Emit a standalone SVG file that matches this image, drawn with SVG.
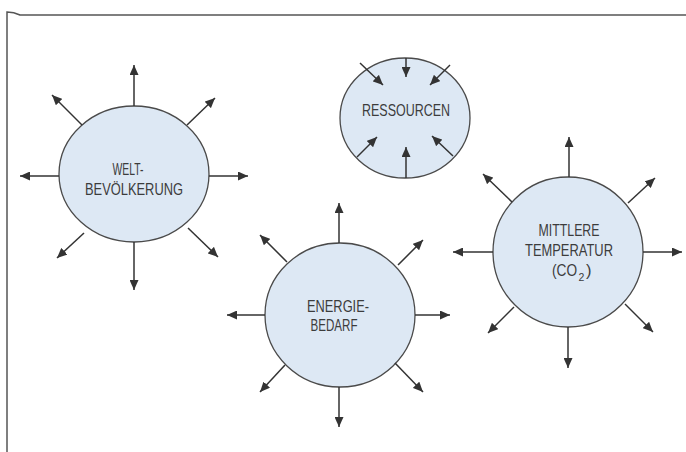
<svg xmlns="http://www.w3.org/2000/svg" width="686" height="452" viewBox="0 0 686 452">
<style>
.bg{fill:#ffffff}
.frame{fill:none;stroke:#555;stroke-width:1.5}
.node{fill:#dde8f4;stroke:#4a4a4a;stroke-width:1.3}
.lbl{font-family:"Liberation Sans",Arial,sans-serif;font-size:16.5px;fill:#3c3c3c;text-anchor:middle}
.st{text-anchor:start}
.sub{font-size:10.5px}
.arr{stroke:#333;stroke-width:1.5;fill:none;marker-end:url(#ah)}
</style>
<defs>
<marker id="ah" markerUnits="userSpaceOnUse" markerWidth="10" markerHeight="9" refX="10" refY="4.5" orient="auto">
<path d="M0,0 L10,4.5 L0,9 z" fill="#333"/>
</marker>
</defs>
<rect class="bg" x="0" y="0" width="686" height="452"/>
<path class="frame" d="M7,452 L7,12 Q14,12 20,15 L686,15"/>

<g id="welt">
<ellipse class="node" cx="134" cy="174" rx="75" ry="68"/>
<text class="lbl" x="128" y="175" textLength="31" lengthAdjust="spacingAndGlyphs">WELT-</text>
<text class="lbl" x="134" y="195" textLength="98" lengthAdjust="spacingAndGlyphs">BEVÖLKERUNG</text>
</g>
<g id="ressourcen">
<ellipse class="node" cx="405" cy="118" rx="65" ry="60"/>
<text class="lbl" x="406" y="116" textLength="88" lengthAdjust="spacingAndGlyphs">RESSOURCEN</text>
</g>
<g id="energie">
<ellipse class="node" cx="340" cy="315" rx="75" ry="72"/>
<text class="lbl" x="338" y="312" textLength="62" lengthAdjust="spacingAndGlyphs">ENERGIE-</text>
<text class="lbl" x="334" y="331" textLength="47" lengthAdjust="spacingAndGlyphs">BEDARF</text>
</g>
<g id="temperatur">
<ellipse class="node" cx="568" cy="252" rx="75" ry="75"/>
<text class="lbl" x="569" y="236" textLength="61" lengthAdjust="spacingAndGlyphs">MITTLERE</text>
<text class="lbl" x="569" y="256" textLength="88" lengthAdjust="spacingAndGlyphs">TEMPERATUR</text>
<text class="lbl st" transform="translate(552,276) scale(0.83,1)" x="0" y="0">(CO</text>
<text class="lbl st sub" x="578.5" y="281">2</text>
<text class="lbl st" x="586" y="276">)</text>
</g>

<g id="connectors">
<line class="arr" x1="134" y1="106" x2="134" y2="65"/>
<line class="arr" x1="134" y1="242" x2="134" y2="290"/>
<line class="arr" x1="59" y1="176" x2="20" y2="176"/>
<line class="arr" x1="209" y1="176" x2="248" y2="176"/>
<line class="arr" x1="82" y1="125" x2="52" y2="95"/>
<line class="arr" x1="187" y1="125" x2="215" y2="98"/>
<line class="arr" x1="84" y1="233" x2="57" y2="258"/>
<line class="arr" x1="188" y1="228" x2="218" y2="257"/>

<line class="arr" x1="406" y1="58" x2="406" y2="77"/>
<line class="arr" x1="360" y1="63" x2="383" y2="85"/>
<line class="arr" x1="450" y1="65" x2="430" y2="85"/>
<line class="arr" x1="357" y1="157" x2="377" y2="137"/>
<line class="arr" x1="406" y1="178" x2="406" y2="147"/>
<line class="arr" x1="453" y1="156" x2="432" y2="136"/>

<line class="arr" x1="339" y1="243" x2="339" y2="203"/>
<line class="arr" x1="339" y1="387" x2="339" y2="427"/>
<line class="arr" x1="265" y1="315" x2="227" y2="315"/>
<line class="arr" x1="415" y1="315" x2="450" y2="315"/>
<line class="arr" x1="287" y1="262" x2="260" y2="235"/>
<line class="arr" x1="398" y1="265" x2="423" y2="240"/>
<line class="arr" x1="285" y1="365" x2="260" y2="392"/>
<line class="arr" x1="395" y1="363" x2="423" y2="392"/>

<line class="arr" x1="569" y1="177" x2="569" y2="137"/>
<line class="arr" x1="568" y1="327" x2="568" y2="368"/>
<line class="arr" x1="493" y1="252" x2="453" y2="252"/>
<line class="arr" x1="643" y1="252" x2="682" y2="252"/>
<line class="arr" x1="512" y1="202" x2="483" y2="174"/>
<line class="arr" x1="628" y1="203" x2="655" y2="178"/>
<line class="arr" x1="514" y1="307" x2="488" y2="333"/>
<line class="arr" x1="625" y1="304" x2="653" y2="332"/>
</g>
</svg>
